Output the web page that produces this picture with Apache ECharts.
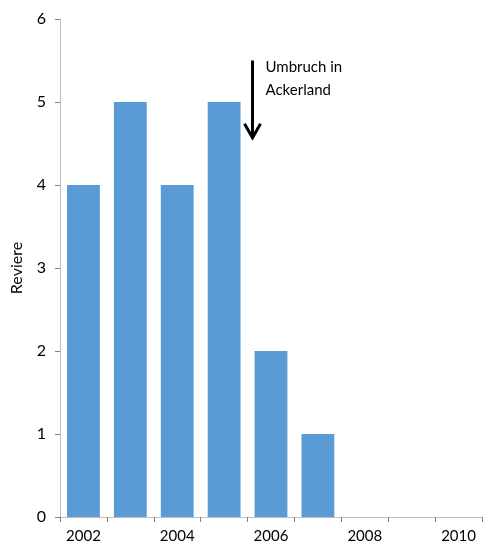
<!DOCTYPE html>
<html><head><meta charset="utf-8">
<script src="https://cdn.jsdelivr.net/npm/echarts@6/dist/echarts.min.js"></script>
<style>html,body{margin:0;padding:0;background:#fff}#c{width:484px;height:549px}</style>
</head><body><div id="c"></div>
<script>
const years = ['2002','2003','2004','2005','2006','2007','2008','2009','2010'];
const reviere = [4,5,4,5,2,1,0,0,0];
const yTicks = [0,1,2,3,4,5,6];
const annotation = 'Umbruch in\nAckerland';
const yName = 'Reviere';

const chart = echarts.init(document.getElementById('c'));
const font = 'Lato, "Open Sans", sans-serif';
chart.setOption({
  animation:false,
  grid:{left:60,right:2,top:19,bottom:32},
  xAxis:{type:'category',data:years,boundaryGap:true,
    axisLine:{lineStyle:{color:'#bfbfbf',width:1}},
    axisTick:{show:true,interval:0,length:5,inside:false,lineStyle:{color:'#808080'}},
    axisLabel:{interval:1,color:'#000',fontSize:15,fontFamily:font,margin:12}},
  yAxis:{type:'value',min:yTicks[0],max:yTicks[yTicks.length-1],interval:1,
    name:yName,nameLocation:'middle',nameGap:35,nameRotate:90,
    nameTextStyle:{color:'#000',fontSize:16,fontFamily:font},
    axisLine:{show:true,lineStyle:{color:'#bfbfbf'}},
    axisTick:{show:true,length:5,lineStyle:{color:'#808080'}},
    splitLine:{show:false},
    axisLabel:{color:'#000',fontSize:16,fontFamily:font,margin:14}},
  series:[{type:'bar',data:reviere,barWidth:'70%',itemStyle:{color:'#5b9bd5'}}]
});
const xb = chart.convertToPixel({xAxisIndex:0},'2006') - 23.5 + 5;
const yTop = chart.convertToPixel({yAxisIndex:0},5.5);
const yBot = chart.convertToPixel({yAxisIndex:0},4.57);
chart.setOption({graphic:[
  {type:'line',shape:{x1:xb,y1:yTop,x2:xb,y2:yBot},style:{stroke:'#000',lineWidth:3}},
  {type:'polyline',shape:{points:[[xb-8,yBot-14],[xb,yBot],[xb+8,yBot-14]]},style:{stroke:'#000',lineWidth:3,fill:null}},
  {type:'text',x:xb+13,y:yTop-5,style:{text:annotation,fill:'#000',fontSize:15,fontFamily:font,lineHeight:23}}
]});
</script></body></html>
